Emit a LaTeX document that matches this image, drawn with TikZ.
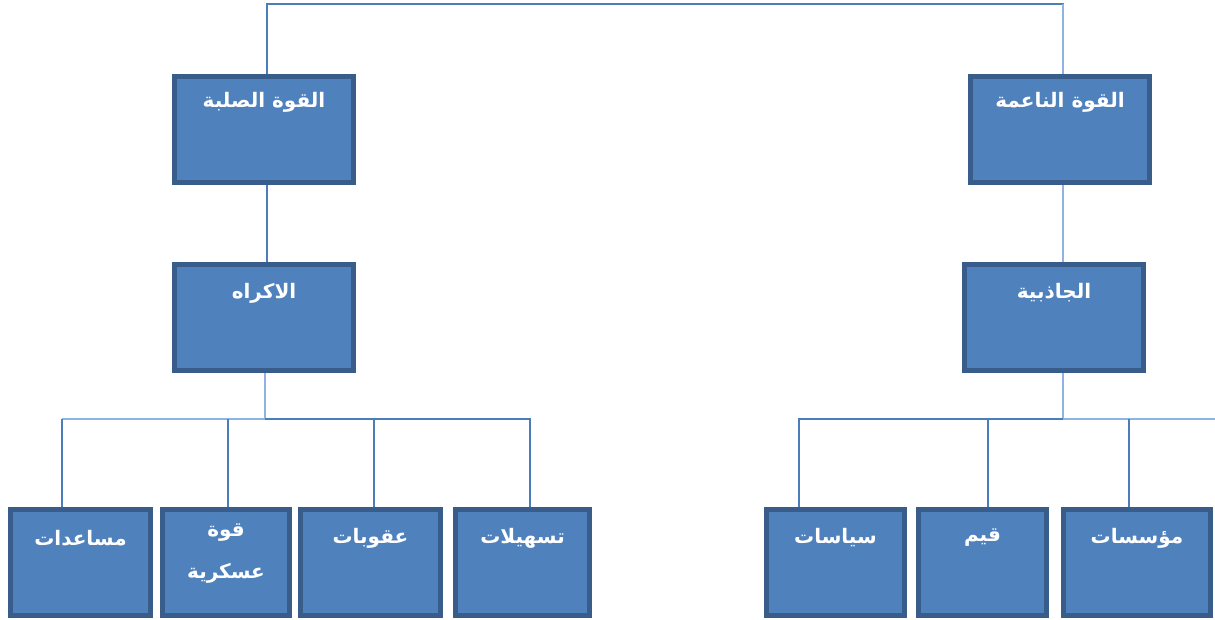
\documentclass[tikz,border=0pt]{standalone}
\usepackage{fontspec}
\newfontfamily\arabicfont[Script=Arabic,BoldFont={DejaVu Sans Bold}]{DejaVu Sans}
\TeXXeTstate=1
\definecolor{boxfill}{HTML}{4F81BD}
\definecolor{boxedge}{HTML}{385D8A}
\definecolor{connmid}{HTML}{4A7EBB}
\definecolor{connlight}{HTML}{8EB4E3}
\tikzset{
  orgbox/.style={rectangle, draw=boxedge, fill=boxfill, line width=5pt, inner sep=0pt, minimum height=106pt},
  orglabel/.style={text=white, font=\arabicfont\bfseries\fontsize{20}{42}\selectfont, align=center, inner sep=0pt},
  connm/.style={draw=connmid, line width=2pt},
  connl/.style={draw=connlight, line width=2pt}
}
\begin{document}
\begin{tikzpicture}[x=1pt,y=-1pt]
\useasboundingbox (0,0) rectangle (1215,620);
% coordinates
\coordinate (topmid) at (665,4);
\coordinate (lbus) at (265,419);
\coordinate (ld1) at (62,419);
\coordinate (ld2) at (228,419);
\coordinate (ld3) at (374,419);
\coordinate (ld4) at (530,419);
\coordinate (rbus) at (1063,419);
\coordinate (rd1) at (799,419);
\coordinate (rd2) at (988,419);
\coordinate (rd3) at (1129,419);
\coordinate (rend) at (1215,419);
% connectors
\coordinate (hardtop) at (267,74);
\coordinate (softtop) at (1063,74);
\draw[connm] (hardtop) |- (topmid);
\draw[connm] (topmid) -| (softtop);
\draw[connl] (softtop |- topmid) -- (softtop);
\draw[connm] (267,185) -- (267,262);
\draw[connl] (1063,185) -- (1063,262);
\draw[connl] (265,373) -- (lbus) -- (ld1);
\draw[connm] (ld1) -- (62,507);
\draw[connm] (lbus) -- (ld4) -- (530,507);
\draw[connm] (ld2) -- (228,507);
\draw[connm] (ld3) -- (374,507);
\draw[connl] (1063,373) -- (rbus) -- (rend);
\draw[connm] (rbus) -- (rd1) -- (799,507);
\draw[connm] (rd2) -- (988,507);
\draw[connm] (rd3) -- (1129,507);
% boxes
\node[orgbox, minimum width=179pt] (hard) at (264,129.5) {};
\node[orgbox, minimum width=179pt] (soft) at (1060,129.5) {};
\node[orgbox, minimum width=179pt] (coerce) at (264,317.5) {};
\node[orgbox, minimum width=179pt] (attr) at (1054,317.5) {};
\node[orgbox, minimum width=140pt] (b1) at (80.5,562.5) {};
\node[orgbox, minimum width=127pt] (b2) at (226,562.5) {};
\node[orgbox, minimum width=140pt] (b3) at (370.5,562.5) {};
\node[orgbox, minimum width=134pt] (b4) at (522.5,562.5) {};
\node[orgbox, minimum width=138pt] (r1) at (835.5,562.5) {};
\node[orgbox, minimum width=128pt] (r2) at (982.5,562.5) {};
\node[orgbox, minimum width=147pt] (r3) at (1137,562.5) {};
% labels
\node[orglabel] (hardl) at ([yshift=-28pt]hard.north) {\beginR القوة الصلبة\endR};
\node[orglabel] (softl) at ([yshift=-28pt]soft.north) {\beginR القوة الناعمة\endR};
\node[orglabel] (coercel) at ([yshift=-31pt]coerce.north) {\beginR الاكراه\endR};
\node[orglabel] (attrl) at ([yshift=-31pt]attr.north) {\beginR الجاذبية\endR};
\node[orglabel] (b1l) at ([yshift=-31pt]b1.north) {\beginR مساعدات\endR};
\node[orglabel, anchor=north] (b2l) at ([yshift=-17pt]b2.north) {\beginR قوة\endR\\\beginR عسكرية\endR};
\node[orglabel] (b3l) at ([yshift=-31pt]b3.north) {\beginR عقوبات\endR};
\node[orglabel] (b4l) at ([yshift=-31pt]b4.north) {\beginR تسهيلات\endR};
\node[orglabel] (r1l) at ([yshift=-31pt]r1.north) {\beginR سياسات\endR};
\node[orglabel] (r2l) at ([yshift=-31pt]r2.north) {\beginR قيم\endR};
\node[orglabel] (r3l) at ([yshift=-31pt]r3.north) {\beginR مؤسسات\endR};
\end{tikzpicture}
\end{document}
